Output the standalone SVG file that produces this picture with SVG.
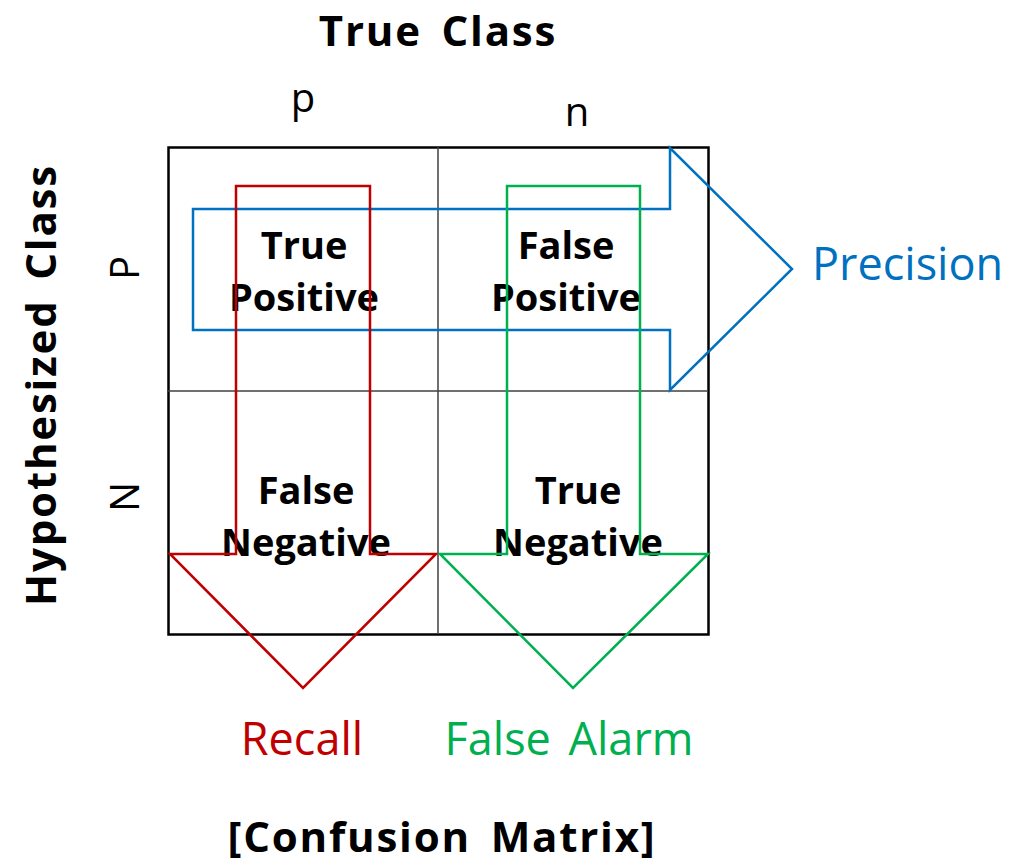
<svg xmlns="http://www.w3.org/2000/svg" width="1012" height="866" viewBox="0 0 1012 866">
<style>
.t{font-family:"Open Sans","Noto Sans",sans-serif;fill:#000}
.h{font-weight:bold;font-size:42px;letter-spacing:1.8px;word-spacing:7px;text-anchor:middle}
.cell{font-family:"Open Sans","Noto Sans",sans-serif;font-weight:bold;font-size:38px;text-anchor:middle;fill:#000}
.o{font-size:45px;word-spacing:6px}
.arr{fill:none;stroke-width:2.5;stroke-linejoin:miter}
</style>
<rect width="1012" height="866" fill="#fff"/>
<g id="matrix">
<rect x="168.5" y="147.5" width="540" height="487" fill="none" stroke="#000" stroke-width="2.5"/>
<line x1="438" y1="147" x2="438" y2="634" stroke="#404040" stroke-width="1.5"/>
<line x1="168" y1="391" x2="708" y2="391" stroke="#404040" stroke-width="1.5"/>
</g>
<g id="labels">
<text class="t h" x="438" y="46">True Class</text>
<text class="t" x="303" y="112" font-size="40" text-anchor="middle">p</text>
<text class="t" x="577" y="126" font-size="40" text-anchor="middle">n</text>
<text class="t h" transform="translate(56,385) rotate(-90)">Hypothesized Class</text>
<text class="t" transform="translate(139,268) rotate(-90)" font-size="40" text-anchor="middle">P</text>
<text class="t" transform="translate(139,497) rotate(-90)" font-size="40" text-anchor="middle">N</text>
<text class="t h" x="442" y="852">[Confusion Matrix]</text>
</g>
<g id="tp"><text class="cell" x="304" y="259">True</text><text class="cell" x="304" y="311">Positive</text></g>
<g id="fp"><text class="cell" x="566" y="259">False</text><text class="cell" x="566" y="311">Positive</text></g>
<g id="fn"><text class="cell" x="306" y="504">False</text><text class="cell" x="306" y="556">Negative</text></g>
<g id="tn"><text class="cell" x="578" y="504">True</text><text class="cell" x="578" y="556">Negative</text></g>
<g id="connectors">
<polygon class="arr" stroke="#0070C0" points="193,209 670,209 670,148 792,269 670,390 670,330 193,330"/>
<polygon class="arr" stroke="#C00000" points="236,186 370,186 370,554 436,554 303,688 170,554 236,554"/>
<polygon class="arr" stroke="#00B050" points="507,186 640,186 640,554 708,554 573,688 440,554 507,554"/>
</g>
<g id="outcomes">
<text class="t o" x="812" y="280" style="fill:#0070C0">Precision</text>
<text class="t o" x="302" y="755" text-anchor="middle" style="fill:#C00000">Recall</text>
<text class="t o" x="569" y="755" text-anchor="middle" style="fill:#00B050">False Alarm</text>
</g>
</svg>
